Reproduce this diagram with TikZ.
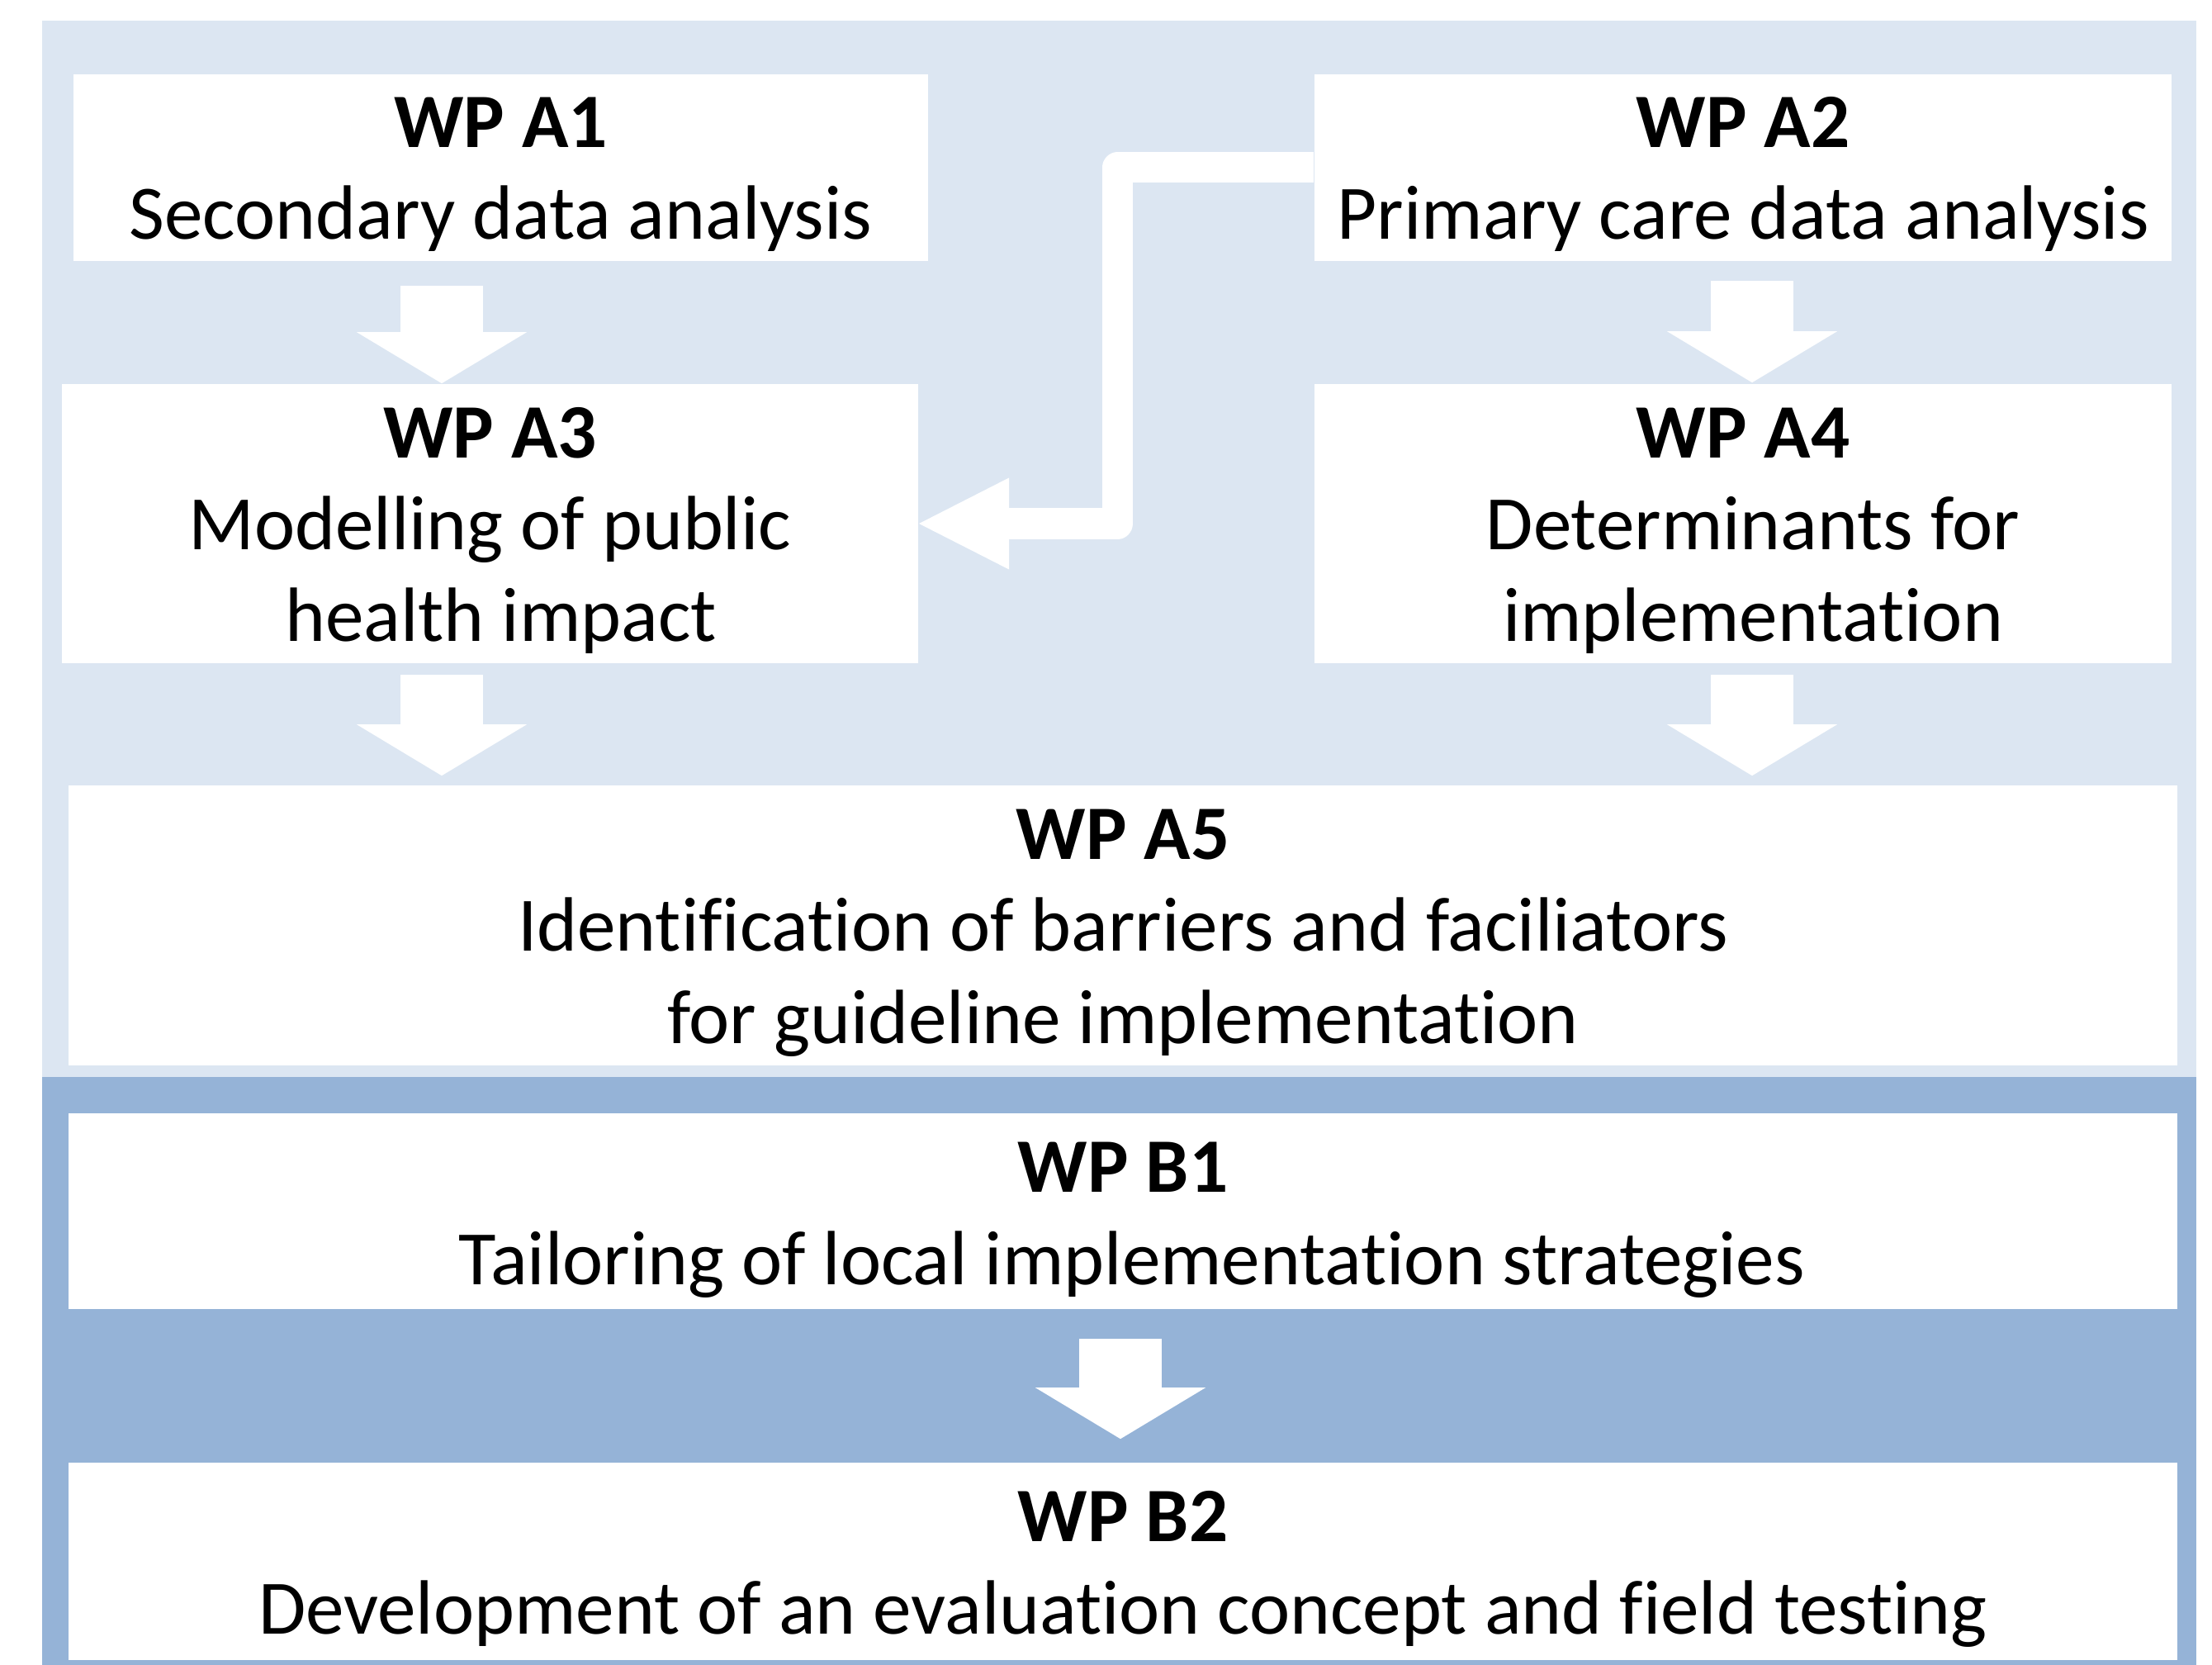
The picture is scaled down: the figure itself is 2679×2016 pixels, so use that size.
\documentclass[tikz,border=0pt]{standalone}
\usepackage{fontspec}
\setmainfont{Carlito}[Ligatures={NoCommon}]
\usetikzlibrary{arrows.meta,calc}
\definecolor{lightbg}{HTML}{DCE6F2}
\definecolor{darkbg}{HTML}{95B3D7}
\tikzset{
  wbox/.style={fill=white, draw=none, inner sep=0pt, rectangle},
  txt/.style={inner sep=0pt, anchor=base, font=\fontsize{26.5pt}{31.6pt}\selectfont},
  downarrow/.style={draw=white, line width=1cm, -{Triangle[length=0.62cm, width=2.06cm, line width=0pt]}},
  elbowarrow/.style={draw=white, line width=0.37cm, line join=round, -{Triangle[length=1.09cm, width=1.11cm, line width=0pt]}}
}
\newcommand{\twol}[2]{\begin{tabular}[b]{@{}c@{}}\textbf{#1}\\#2\end{tabular}}
\newcommand{\threel}[3]{\begin{tabular}[b]{@{}c@{}}\textbf{#1}\\#2\\#3\end{tabular}}
\newcommand{\lpad}[1]{\hspace*{#1}}
\begin{document}
\begin{tikzpicture}[x=0.01cm, y=-0.01cm]
\useasboundingbox (0,0) rectangle (2679,2016);
\fill[white] (0,0) rectangle (2679,2016);
\fill[lightbg] (51,25) rectangle (2660,1304);
\fill[darkbg] (51,1304) rectangle (2660,2016);

\node[wbox, minimum width=10.35cm, minimum height=2.26cm] (A1) at (606.5,203) {};
\node[wbox, minimum width=10.38cm, minimum height=2.26cm] (A2) at (2111,203) {};
\node[wbox, minimum width=10.37cm, minimum height=3.38cm] (A3) at (593.5,634) {};
\node[wbox, minimum width=10.38cm, minimum height=3.38cm] (A4) at (2111,634) {};
\node[wbox, minimum width=25.52cm, minimum height=3.39cm] (A5) at (1360,1120.5) {};
\node[wbox, minimum width=25.52cm, minimum height=2.37cm] (B1) at (1360,1466.5) {};
\node[wbox, minimum width=25.52cm, minimum height=2.39cm] (B2) at (1360,1890.5) {};

\node[txt] (A1t) at (606.5,290) {\twol{WP A1}{Secondary data analysis}};
\node[txt] (A2t) at (2111,290) {\twol{WP A2}{Primary care data analysis}};
\node[txt] (A3t) at (593.5,777) {\threel{WP A3}{Modelling of public}{\lpad{0.26cm}health impact}};
\node[txt] (A4t) at (2111,777) {\threel{\lpad{0cm}WP A4}{\lpad{0.24cm}Determinants for}{\lpad{0.24cm}implementation}};
\node[txt] (A5t) at (1360,1263) {\threel{WP A5}{Identification of barriers and faciliators}{for guideline implementation}};
\node[txt] (B1t) at (1360,1555) {\twol{WP B1}{\lpad{0.22cm}Tailoring of local implementation strategies}};
\node[txt] (B2t) at (1360,1978) {\twol{WP B2}{Development of an evaluation concept and field testing}};

\coordinate (colL) at (535,0);
\coordinate (colR) at (2122,0);
\coordinate (colM) at (1357,0);
\coordinate (elb) at (1353.5,420);

\draw[downarrow, shorten <=0.29cm] (A1.south -| colL) -- (A3.north -| colL);
\draw[downarrow, shorten <=0.23cm, shorten >=0.01cm] (A2.south -| colR) -- (A4.north -| colR);
\draw[downarrow, shorten <=0.13cm, shorten >=0.11cm] (A3.south -| colL) -- (A5.north -| colL);
\draw[downarrow, shorten <=0.13cm, shorten >=0.11cm] (A4.south -| colR) -- (A5.north -| colR);
\draw[downarrow, shorten <=0.35cm, shorten >=0.28cm] (B1.south -| colM) -- (B2.north -| colM);
\draw[elbowarrow] (A2.west) -| (elb) |- (A3.east);
\end{tikzpicture}
\end{document}
